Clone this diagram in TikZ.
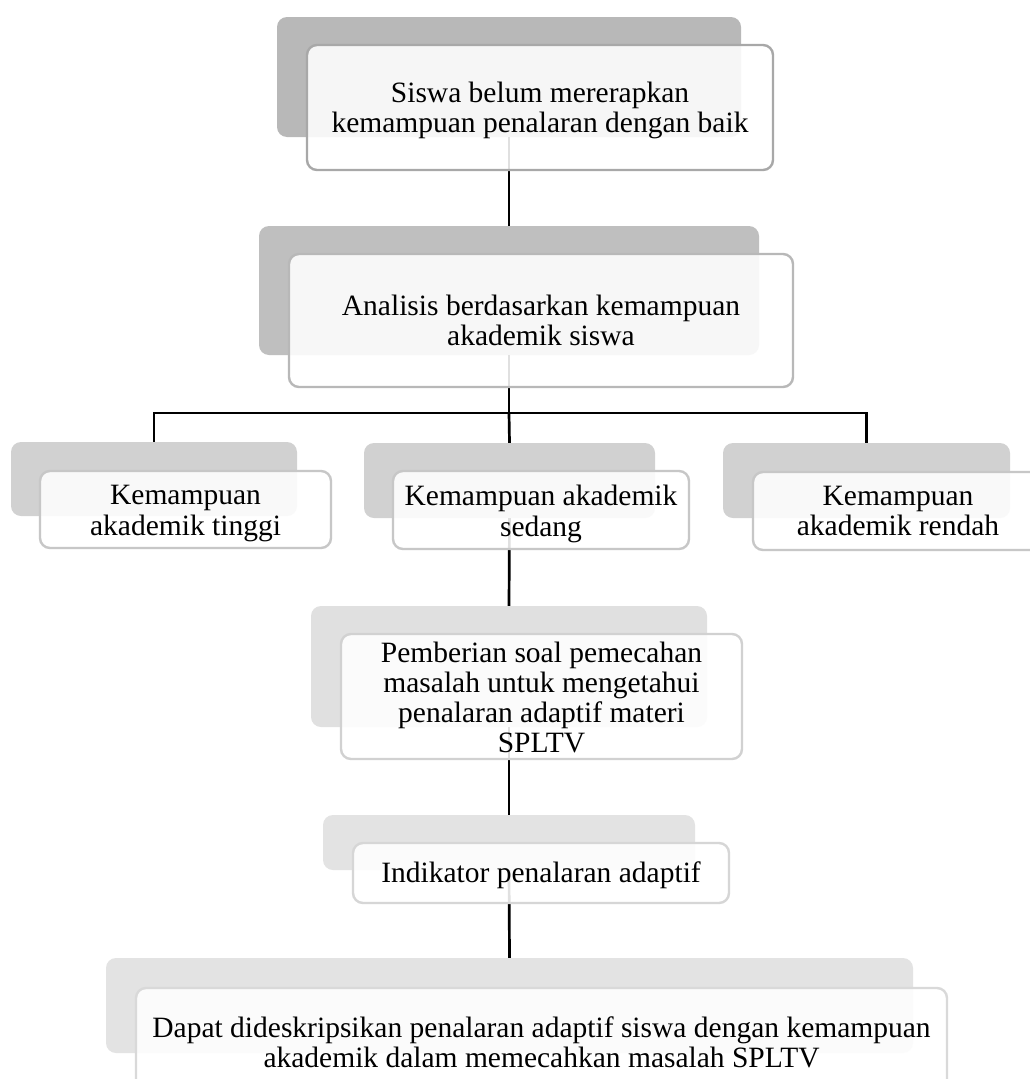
\documentclass[tikz,border=0pt]{standalone}
\usepackage{fontspec}
\setmainfont{Liberation Serif}
\begin{document}
\begin{tikzpicture}[x=1pt,y=-1pt,
  back/.style={fill=#1, draw=none, rounded corners=10pt, inner sep=0pt},
  front/.style={fill=white, fill opacity=0.88, draw=#1, line width=2.4pt,
    rounded corners=10pt, inner sep=0pt},
  txt/.style={align=center, text=black, inner sep=0pt,
    font=\fontsize{29.5}{30.3}\selectfont},
  conn/.style={draw=black, line width=2.7pt}
]
\useasboundingbox (0,0) rectangle (1030,1079);
\clip (0,0) rectangle (1030,1079);
\fill[white] (0,0) rectangle (1030,1079);
% back boxes
\node[back=black!28, minimum width=464pt, minimum height=120pt] (b1) at (509,77) {};
\node[back=black!25, minimum width=500pt, minimum height=129pt] (b2) at (509,290.5) {};
\node[back=black!18, minimum width=286pt, minimum height=74pt] (b3a) at (154,479) {};
\node[back=black!18, minimum width=291pt, minimum height=75pt] (b3b) at (509.5,480.5) {};
\node[back=black!18, minimum width=287pt, minimum height=75pt] (b3c) at (866.5,480.5) {};
\node[back=black!12, minimum width=396pt, minimum height=121pt] (b4) at (509,666.5) {};
\node[back=black!11, minimum width=372pt, minimum height=55pt] (b5) at (509,842.5) {};
\node[back=black!11, minimum width=807pt, minimum height=95pt] (b6) at (509.5,1005.5) {};
% connectors
\coordinate (j) at (509,413);
\draw[conn] (b1.south) -- (b2.north);
\draw[conn] (b2.south) -- (j);
\draw[conn] (b3a.north) -- (b3a.north |- j) -- (b3c.north |- j) -- (b3c.north);
\draw[conn] (j) -- (b3b.north);
\draw[conn] (b3b.south) -- (b4.north);
\draw[conn] (b4.south) -- (b5.north);
\draw[conn] (b5.south) -- (b6.north);
% front boxes
\node[front=black!34, minimum width=466pt, minimum height=125pt] (f1) at (540,107.5) {};
\node[front=black!28, minimum width=504pt, minimum height=133pt] (f2) at (541,320.5) {};
\node[front=black!22, minimum width=291pt, minimum height=77pt] (f3a) at (185.5,509.5) {};
\node[front=black!22, minimum width=296pt, minimum height=78pt] (f3b) at (541,510) {};
\node[front=black!22, minimum width=290pt, minimum height=78pt] (f3c) at (898,511) {};
\node[front=black!18, minimum width=401pt, minimum height=125pt] (f4) at (541.5,696.5) {};
\node[front=black!16, minimum width=376pt, minimum height=60pt] (f5) at (541,873) {};
\node[front=black!15, minimum width=811pt, minimum height=108pt] (f6) at (541.5,1042) {};
% texts
\node[txt] (t1) at ([yshift=-3pt]f1.center) {Siswa belum mererapkan\\kemampuan penalaran dengan baik};
\node[txt] (t2) at (f2.center) {Analisis berdasarkan kemampuan\\akademik siswa};
\node[txt] (t3a) at ([yshift=-4pt]f3a.center) {Kemampuan\\akademik tinggi};
\node[txt] (t3b) at ([yshift=-4pt]f3b.center) {Kemampuan akademik\\sedang};
\node[txt] (t3c) at (f3c.center) {Kemampuan\\akademik rendah};
\node[txt] (t4) at ([yshift=-1pt]f4.center) {Pemberian soal pemecahan\\masalah untuk mengetahui\\penalaran adaptif materi\\SPLTV};
\node[txt] (t5) at ([yshift=-2pt]f5.center) {Indikator penalaran adaptif};
\node[txt] (t6) at (f6.center) {Dapat dideskripsikan penalaran adaptif siswa dengan kemampuan\\akademik dalam memecahkan masalah SPLTV};
\end{tikzpicture}
\end{document}
